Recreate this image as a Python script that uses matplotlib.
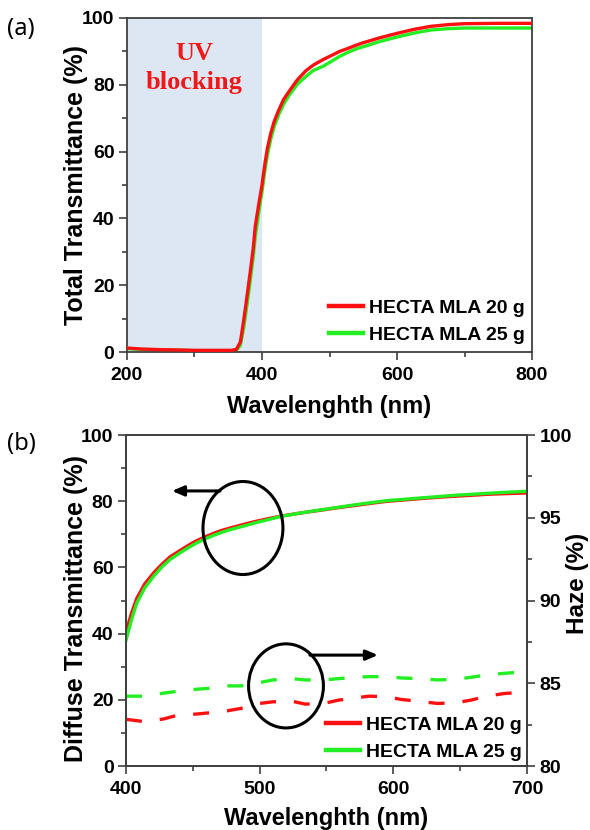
import matplotlib

matplotlib.use("Agg")
import matplotlib.pyplot as plt  # noqa: E402
from matplotlib.lines import Line2D  # noqa: E402
from matplotlib.patches import Ellipse  # noqa: E402
from matplotlib.ticker import MultipleLocator  # noqa: E402


# === (a) Total transmittance ===
wl_total = [200, 220, 250, 280, 300, 330, 355, 362, 368, 373, 378, 383, 387,
            390, 395, 400, 404, 408, 413, 418, 425, 432, 440, 452, 465, 476,
            490, 501, 515, 526, 540, 550, 575, 600, 625, 650, 675, 700, 750, 800]
total_20g = [1.2, 0.9, 0.7, 0.6, 0.5, 0.5, 0.5, 0.8, 3.0, 9.6, 17.0, 24.6, 31.0,
             37.6, 44.0, 50.0, 56.0, 61.0, 65.5, 69.0, 72.5, 75.6, 78.0, 81.4, 84.2,
             85.9, 87.5, 88.6, 90.0, 90.8, 91.9, 92.6, 94.1, 95.4, 96.6, 97.5, 98.0,
             98.3, 98.4, 98.4]
total_25g = [1.0, 0.8, 0.6, 0.5, 0.4, 0.4, 0.4, 0.5, 2.0, 7.5, 14.5, 22.0, 28.5,
             34.5, 41.5, 48.0, 54.0, 59.0, 63.8, 67.5, 71.2, 74.2, 76.8, 80.1, 82.5,
             84.3, 85.5, 86.8, 88.5, 89.6, 90.8, 91.4, 93.0, 94.3, 95.5, 96.4, 96.8,
             97.0, 97.0, 97.0]

# === (b) Diffuse transmittance + haze ===
wl_diffuse = [400, 404, 408, 414, 421, 427, 433, 440, 446, 452, 458.5, 465, 471,
              477, 483.5, 490, 496, 506, 516, 530, 546, 558, 571, 584, 596, 609,
              621, 634, 646, 659, 671, 685, 700]
diffuse_20g = [40.5, 46.0, 50.6, 55.0, 58.5, 61.0, 63.2, 65.0, 66.5, 67.9, 69.1,
               70.2, 71.1, 71.8, 72.5, 73.2, 73.8, 74.7, 75.5, 76.4, 77.3, 78.0,
               78.7, 79.4, 80.0, 80.4, 80.8, 81.2, 81.5, 81.8, 82.1, 82.3, 82.5]
diffuse_25g = [38.0, 44.0, 49.2, 53.8, 57.5, 60.2, 62.4, 64.3, 65.8, 67.2, 68.5,
               69.6, 70.5, 71.3, 72.0, 72.7, 73.4, 74.4, 75.4, 76.4, 77.4, 78.1,
               78.9, 79.6, 80.2, 80.6, 81.0, 81.4, 81.8, 82.1, 82.4, 82.7, 83.0]

wl_haze = [400, 414, 428, 439, 453, 463, 476, 486, 500, 510, 524, 534, 548, 559,
           572, 582, 595, 606, 620, 633, 647, 658, 670, 683, 700]
haze_20g = [82.82, 82.68, 82.84, 83.08, 83.14, 83.22, 83.34, 83.48, 83.78, 83.88,
            83.92, 83.74, 83.78, 83.98, 84.12, 84.22, 84.18, 84.02, 83.90, 83.78,
            83.82, 83.98, 84.22, 84.38, 84.48]
haze_25g = [84.22, 84.22, 84.40, 84.52, 84.64, 84.70, 84.84, 84.84, 85.04, 85.20,
            85.28, 85.20, 85.20, 85.28, 85.36, 85.40, 85.40, 85.32, 85.28, 85.20,
            85.24, 85.36, 85.50, 85.60, 85.70]

labels = ["HECTA MLA 20 g", "HECTA MLA 25 g"]

RED = "#ff1010"
GREEN = "#22ee22"
SPINE = "#404040"
SHADE = "#dde7f3"
BOLD = {"family": ["Liberation Sans", "DejaVu Sans"], "weight": "bold"}
NARROW = {"family": ["Liberation Sans Narrow", "Liberation Sans"], "weight": "bold"}
ARROW = {"arrowstyle": "-|>,head_length=0.7,head_width=0.3",
         "color": "black", "lw": 2.2, "shrinkA": 0, "shrinkB": 0}


def _style_axes(ax, right_ticks=False):
    for spine in ax.spines.values():
        spine.set_color(SPINE)
        spine.set_linewidth(1.3)
    ax.tick_params(which="both", direction="out", color=SPINE, width=1.2,
                   top=False, right=right_ticks, labelright=right_ticks,
                   labelleft=not right_ticks)
    ax.tick_params(which="major", length=6, pad=3)
    ax.tick_params(axis="x", which="major", pad=5)
    ax.tick_params(which="minor", length=3.5)
    for lab in ax.get_xticklabels() + ax.get_yticklabels():
        lab.set_fontproperties(BOLD)
        lab.set_fontsize(14)


def _legend(ax, anchor):
    handles = [Line2D([], [], color=RED, lw=3.2), Line2D([], [], color=GREEN, lw=3.2)]
    leg = ax.legend(handles, labels, loc="lower right", bbox_to_anchor=anchor,
                    frameon=False, handlelength=1.75, handletextpad=0.3,
                    labelspacing=0.5, borderaxespad=0,
                    prop={"family": ["Liberation Sans", "DejaVu Sans"],
                          "weight": "bold", "size": 14})
    return leg


fig = plt.figure(figsize=(5.9, 8.3), dpi=100)

# ---------- panel (a) ----------
ax_a = fig.add_axes([127 / 590, 1 - 352 / 830, 405 / 590, 334 / 830])
ax_a.axvspan(200, 400, color=SHADE, lw=0, zorder=0)
ax_a.plot(wl_total, total_20g, color=RED, lw=2.4, zorder=3)
ax_a.plot(wl_total, total_25g, color=GREEN, lw=2.4, zorder=2)
ax_a.set_xlim(200, 800)
ax_a.set_ylim(0, 100)
ax_a.xaxis.set_major_locator(MultipleLocator(200))
ax_a.xaxis.set_minor_locator(MultipleLocator(100))
ax_a.yaxis.set_major_locator(MultipleLocator(20))
ax_a.yaxis.set_minor_locator(MultipleLocator(10))
_style_axes(ax_a)
ax_a.set_xlabel("Wavelenghth (nm)", fontsize=17, labelpad=8, **NARROW)
ax_a.set_ylabel("Total Transmittance (%)", fontsize=18, **BOLD)
ax_a.yaxis.set_label_coords(-0.096, 0.5)
ax_a.text(300, 85, "UV\nblocking", color="#f01818", fontsize=19,
          fontweight="bold", family=["Liberation Serif", "DejaVu Serif"],
          ha="center", va="center", linespacing=1.3)
_legend(ax_a, (1.002, 0.001))
fig.text(7 / 590, 1 - 29 / 830, "(a)", fontsize=17, va="center",
         family=["Noto Sans", "DejaVu Sans"])

# ---------- panel (b) ----------
ax_b = fig.add_axes([126 / 590, 1 - 766 / 830, 401 / 590, 331 / 830])
ax_h = ax_b.twinx()
ax_b.plot(wl_diffuse, diffuse_20g, color=RED, lw=2.4, zorder=2)
ax_b.plot(wl_diffuse, diffuse_25g, color=GREEN, lw=2.4, zorder=3)
ax_h.plot(wl_haze, haze_20g, color=RED, lw=2.4, ls=(0, (4.8, 5.4)))
ax_h.plot(wl_haze, haze_25g, color=GREEN, lw=2.4, ls=(0, (4.8, 5.4)))
ax_b.set_xlim(400, 700)
ax_b.set_ylim(0, 100)
ax_h.set_ylim(80, 100)
ax_b.xaxis.set_major_locator(MultipleLocator(100))
ax_b.xaxis.set_minor_locator(MultipleLocator(50))
ax_b.yaxis.set_major_locator(MultipleLocator(20))
ax_b.yaxis.set_minor_locator(MultipleLocator(10))
ax_h.yaxis.set_major_locator(MultipleLocator(5))
ax_h.yaxis.set_minor_locator(MultipleLocator(2.5))
_style_axes(ax_b)
_style_axes(ax_h, right_ticks=True)
ax_h.tick_params(axis="x", which="both", bottom=False, labelbottom=False)
ax_b.set_xlabel("Wavelenghth (nm)", fontsize=17, labelpad=6.5, **NARROW)
ax_b.set_ylabel("Diffuse Transmittance (%)", fontsize=18, **BOLD)
ax_b.yaxis.set_label_coords(-0.095, 0.477)
ax_h.set_ylabel("Haze (%)", fontsize=17.5, **BOLD)
ax_h.yaxis.set_label_coords(1.097, 0.553)

# circles + arrows pointing to the axis each group belongs to
ax_b.add_patch(Ellipse((487.5, 71.9), 59.8, 28.1, fill=False, lw=2.2,
                       ec="black", zorder=5))
ax_b.annotate("", xy=(434.4, 83.1), xytext=(470.3, 83.1), arrowprops=ARROW)
ax_b.add_patch(Ellipse((519.7, 24.2), 56.0, 25.4, fill=False, lw=2.2,
                       ec="black", zorder=5))
ax_b.annotate("", xy=(588.5, 33.5), xytext=(537.6, 33.5), arrowprops=ARROW)
_legend(ax_h, (1.007, -0.008))
fig.text(7 / 590, 1 - 444 / 830, "(b)", fontsize=17, va="center",
         family=["Noto Sans", "DejaVu Sans"])

fig.savefig("out.png", dpi=100)
plt.close(fig)
